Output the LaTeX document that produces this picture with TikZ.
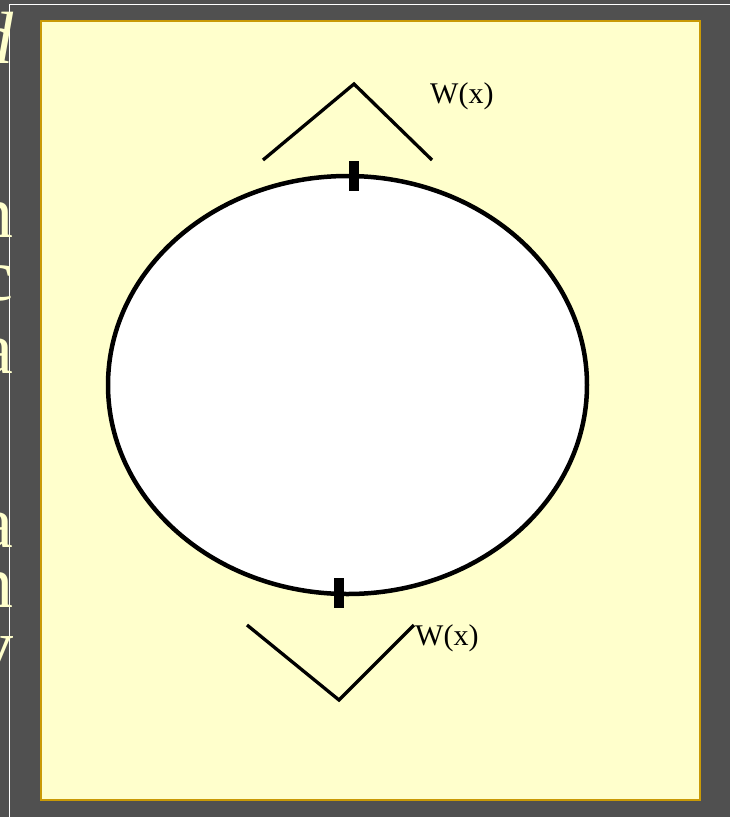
\documentclass[tikz,border=0pt]{standalone}
\usepackage{fontspec}
\setmainfont{Liberation Serif}
\usepackage{xcolor}
\usepackage{tikz}
\usetikzlibrary{shapes.geometric}

\definecolor{slate}{HTML}{505050}
\definecolor{paper}{HTML}{FFFFCC}
\definecolor{gold}{HTML}{C99A06}
\definecolor{cream}{HTML}{FFFFCC}

\begin{document}
\begin{tikzpicture}[x=1pt, y=-1pt,
  wedge/.style={draw, line width=3.3pt},
  tick/.style={fill=black, inner sep=0pt, minimum width=10pt, minimum height=30pt},
  lbl/.style={font=\fontsize{30}{30}\selectfont, inner sep=0pt, anchor=base west},
  edgetext/.style={font=\fontsize{74}{74}\selectfont, text=cream, inner sep=0pt,
                   text height=36pt, text depth=0pt, anchor=base east}]

  % Canvas
  \useasboundingbox (0,0) rectangle (730,817);
  \clip (0,0) rectangle (730,817);
  \fill[slate] (0,0) rectangle (730,817);
  \draw[white, line width=1.5pt] (9.5,817) -- (9.5,4.5) -- (730,4.5);

  % Cut-off text at the left edge
  \node[edgetext] (t1) at (14,63) {\itshape d};
  \node[edgetext] (t2) at (14,237) {n};
  \node[edgetext] (t3) at (14,300) {c};
  \node[edgetext] (t4) at (14,373) {a};
  \node[edgetext] (t5) at (14,547) {a};
  \node[edgetext] (t6) at (14,607) {n};
  \node[edgetext] (t7) at (14,670) {v};

  % Panel
  \draw[gold, fill=paper, line width=2pt] (41,21) rectangle (700,800);

  % Loop
  \node[ellipse, draw, fill=white, line width=4.5pt, inner sep=0pt,
        minimum width=479pt, minimum height=418pt] (loop) at (347.5,385) {};
  \node[tick] (top) at (354,176) {};
  \node[tick] (bot) at (339,593) {};

  % Upper wedge
  \coordinate (u1) at (263,160);
  \coordinate (u2) at (354,84);
  \coordinate (u3) at (432,160);
  \draw[wedge] (u1) -- (u2) -- (u3);
  \node[lbl] (wu) at (430,103) {W(x)};

  % Lower wedge
  \coordinate (d1) at (247,625);
  \coordinate (d2) at (339,700);
  \coordinate (d3) at (414,625);
  \draw[wedge] (d1) -- (d2) -- (d3);
  \node[lbl] (wd) at (415,645) {W(x)};

\end{tikzpicture}
\end{document}
